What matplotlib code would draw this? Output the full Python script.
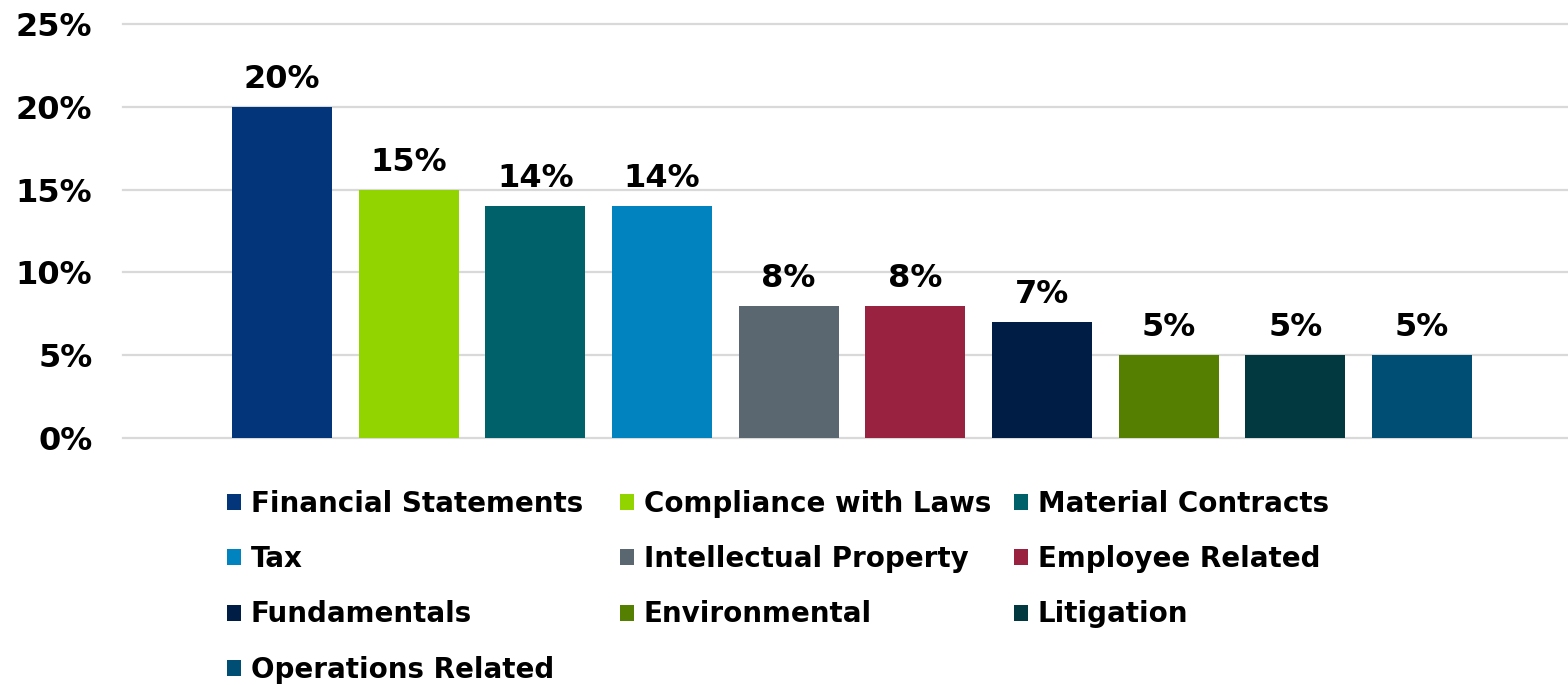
import matplotlib
matplotlib.use("Agg")
import matplotlib.pyplot as plt
from matplotlib.ticker import FuncFormatter

categories = ["Financial Statements", "Compliance with Laws", "Material Contracts",
              "Tax", "Intellectual Property", "Employee Related", "Fundamentals",
              "Environmental", "Litigation", "Operations Related"]
values = [20, 15, 14, 14, 8, 8, 7, 5, 5, 5]
colors = ["#03357A", "#92D400", "#00616B", "#0083BF", "#5B6770", "#98223F",
          "#001E45", "#557F00", "#02383F", "#004E73"]
yticks = [0, 5, 10, 15, 20, 25]

plt.rcParams['font.family'] = ['DejaVu Sans']
fig = plt.figure(figsize=(15.68, 6.85), dpi=100)
ax = fig.add_axes([123/1568, 1-438/685, 1-123/1568, (438-24)/685])

x = list(range(len(categories)))
bars = ax.bar(x, values, width=0.79, color=colors, zorder=3)
for xi, v in zip(x, values):
    ax.annotate(f"{v}%", (xi, v), xytext=(0, 8.5), textcoords="offset points",
                ha="center", va="bottom", fontsize=23, fontweight="bold", color="black")

ax.set_ylim(0, 25)
ax.set_xlim(-1.255, 10.153)
ax.set_yticks(yticks)
ax.yaxis.set_major_formatter(FuncFormatter(lambda v, p: f"{int(v)}%"))
ax.grid(axis="y", color="#D9D9D9", linewidth=1.6, zorder=0)
for gl in ax.get_ygridlines():
    gl.set_clip_on(False)
ax.set_axisbelow(True)
for s in ax.spines.values():
    s.set_visible(False)
ax.tick_params(axis="y", length=0, pad=22, labelsize=23)
ax.tick_params(axis="x", length=0, labelbottom=False)
for lab in ax.get_yticklabels():
    lab.set_fontweight("bold")
ax.set_xticks([])

# legend: three columns, row-major order
col_x = [227, 620, 1014]
for c in range(3):
    idx = list(range(c, len(categories), 3))
    fig.legend([bars[i] for i in idx], [categories[i] for i in idx],
               loc="upper left", bbox_to_anchor=(col_x[c]/1568, 1-490/685),
               frameon=False, handlelength=0.5, handleheight=0.5,
               handletextpad=0.35, labelspacing=0.98, borderaxespad=0,
               borderpad=0, prop={"size": 20, "weight": "bold"})

fig.savefig("out.png", dpi=100)
